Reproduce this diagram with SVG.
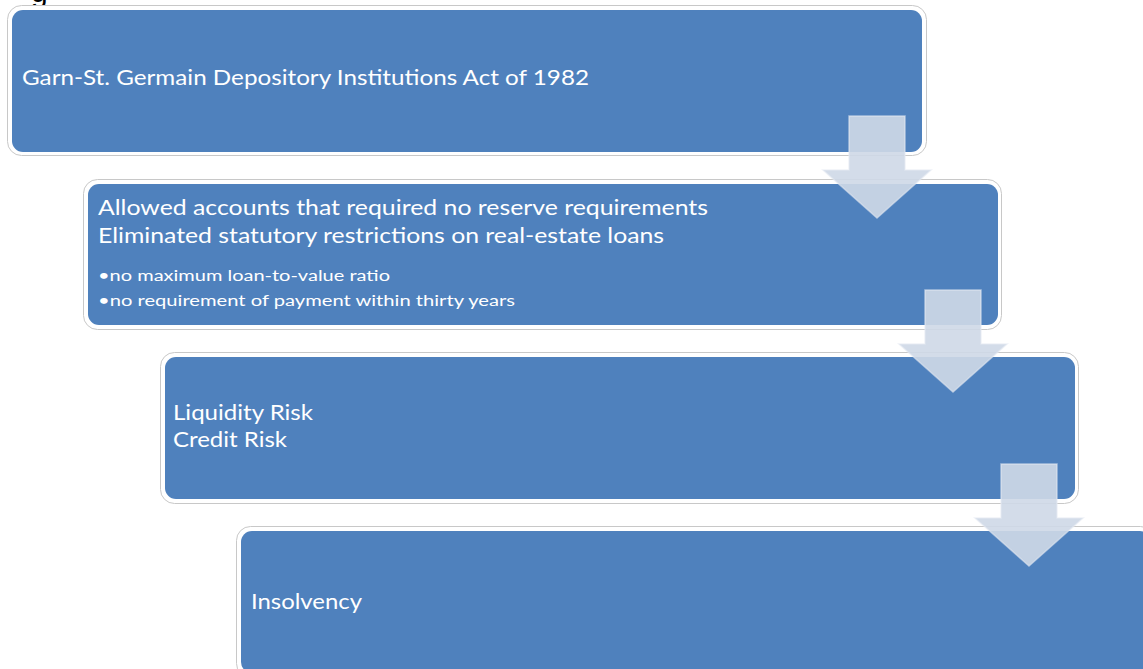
<svg xmlns="http://www.w3.org/2000/svg" width="1143" height="669" viewBox="0 0 1143 669">
<style>
.outer{fill:#ffffff;stroke:#c8c8c8;stroke-width:1}
.box{fill:#4F81BD}
.t{font-family:Lato,"Open Sans","Liberation Sans",sans-serif;fill:#ffffff}
.big{font-size:21px}
.small{font-size:15.5px}
.arrow{fill:rgb(207,216,231);fill-opacity:0.91;stroke:#e4e9f2;stroke-opacity:0.6;stroke-width:1.5}
</style>
<rect width="1143" height="669" fill="#ffffff"/>
<text x="31" y="1.5" font-family="'Liberation Sans',sans-serif" font-size="30" fill="#000000">g</text>
<g id="node1">
<rect class="outer" x="7.5" y="5.5" width="919" height="150" rx="14"/>
<rect class="box" x="12" y="10" width="910" height="142" rx="11"/>
<text class="t" x="22" y="85" font-size="21" textLength="567" lengthAdjust="spacingAndGlyphs">Garn-St. Germain Depository Institutions Act of 1982</text>
</g>
<g id="node2">
<rect class="outer" x="83.5" y="179.5" width="918" height="150" rx="14"/>
<rect class="box" x="88" y="184" width="910" height="141" rx="11"/>
<text class="t big" x="98" y="215" textLength="610" lengthAdjust="spacingAndGlyphs">Allowed accounts that required no reserve requirements</text>
<text class="t big" x="98" y="243" textLength="566" lengthAdjust="spacingAndGlyphs">Eliminated statutory restrictions on real-estate loans</text>
<text class="t small" x="98" y="281" textLength="292" lengthAdjust="spacingAndGlyphs">•no maximum loan-to-value ratio</text>
<text class="t small" x="98" y="306" textLength="417" lengthAdjust="spacingAndGlyphs">•no requirement of payment within thirty years</text>
</g>
<g id="node3">
<rect class="outer" x="160.5" y="352.5" width="918" height="151" rx="14"/>
<rect class="box" x="165" y="357" width="910" height="142" rx="11"/>
<text class="t big" x="173" y="420" textLength="140" lengthAdjust="spacingAndGlyphs">Liquidity Risk</text>
<text class="t big" x="173" y="447" textLength="114" lengthAdjust="spacingAndGlyphs">Credit Risk</text>
</g>
<g id="node4">
<rect class="outer" x="236.5" y="526.5" width="918" height="151" rx="14"/>
<rect class="box" x="241" y="531" width="910" height="142" rx="11"/>
<text class="t big" x="251" y="609" textLength="111" lengthAdjust="spacingAndGlyphs">Insolvency</text>
</g>
<g id="connectors">
<path class="arrow" d="M849,116 H905 V170 H931 L877,218 L823,170 H849 Z"/>
<path class="arrow" d="M925,290 H981 V344 H1007 L953,392 L899,344 H925 Z"/>
<path class="arrow" d="M1001,464 H1057 V518 H1083 L1029,566 L975,518 H1001 Z"/>
</g>
</svg>
